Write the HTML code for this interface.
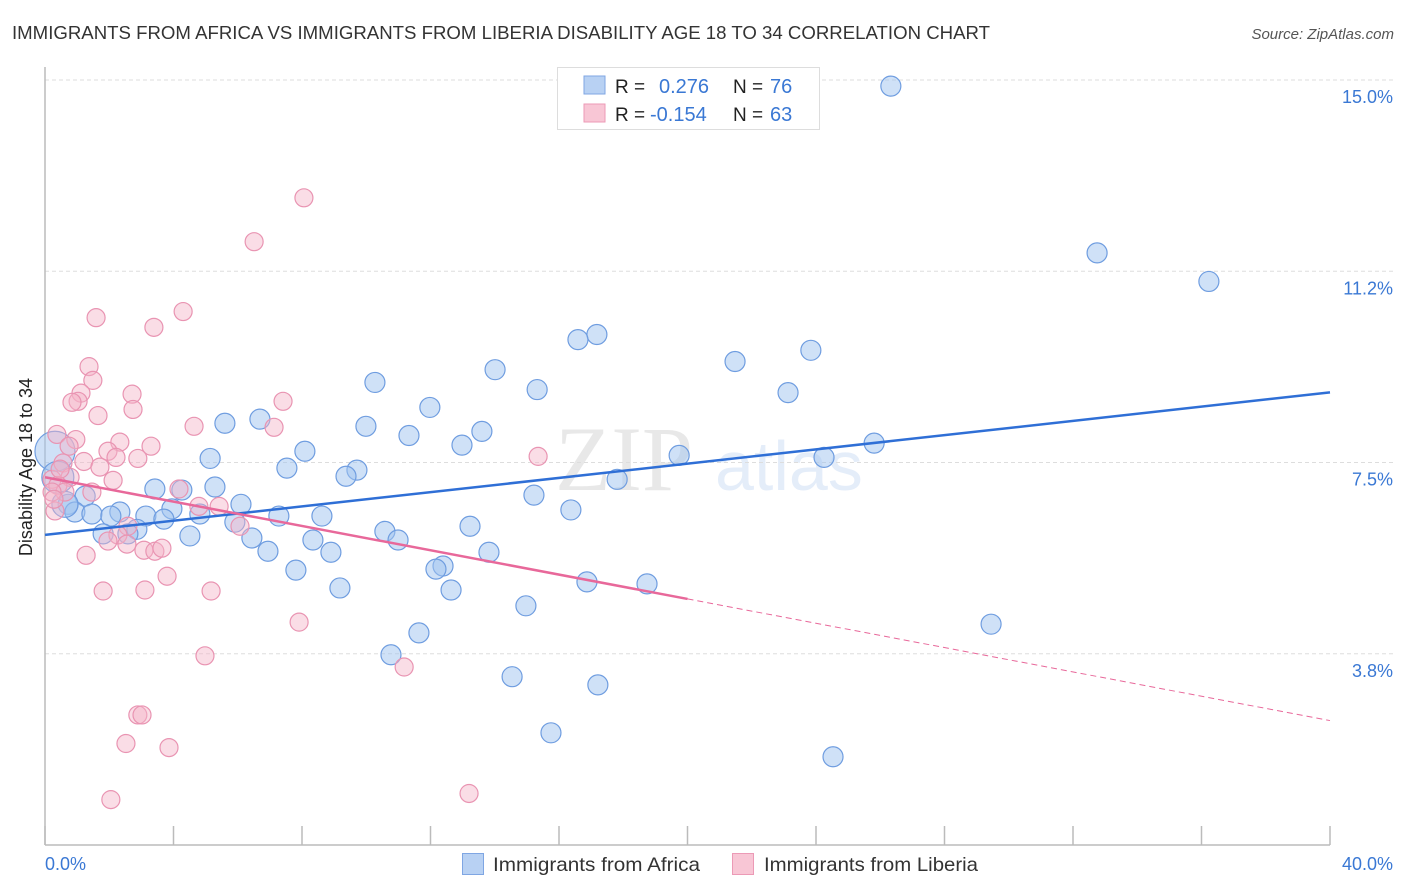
<!DOCTYPE html>
<html><head><meta charset="utf-8"><style>
body{margin:0;background:#fff;font-family:"Liberation Sans",sans-serif;}
svg{display:block}
</style></head><body>
<svg id="chart" width="1406" height="892" viewBox="0 0 1406 892">
<text x="12" y="39" font-size="18.5" fill="#333" textLength="978" lengthAdjust="spacingAndGlyphs">IMMIGRANTS FROM AFRICA VS IMMIGRANTS FROM LIBERIA DISABILITY AGE 18 TO 34 CORRELATION CHART</text>
<text x="1394" y="39" font-size="15" fill="#555" font-style="italic" text-anchor="end">Source: ZipAtlas.com</text>
<g opacity="0.13">
<text x="555" y="490" font-size="92" font-family="Liberation Serif,serif" fill="#555">ZIP</text>
<text x="715" y="490" font-size="70" fill="#3a78d4">atlas</text>
</g>
<g id="grid"></g>
<g id="axes"></g>
<g id="pts-b"></g>
<g id="pts-p"></g>
<g id="trends"></g>
<text x="20" y="455" font-size="18" fill="#222" transform="rotate(-90 32 455)" text-anchor="middle">Disability Age 18 to 34</text>
<g>
<rect x="557.5" y="67.5" width="262" height="62" fill="#fff" stroke="#ddd"/>
<rect x="584" y="76" width="21" height="18" fill="#b8d1f3" stroke="#7fa6e3"/>
<rect x="584" y="104" width="21" height="18" fill="#f8c6d5" stroke="#ec9ab6"/>
<text x="615" y="93" font-size="19" fill="#222">R =</text>
<text x="659" y="93" font-size="20" fill="#3a78d4">0.276</text>
<text x="733" y="93" font-size="19" fill="#222">N =</text>
<text x="770" y="93" font-size="20" fill="#3a78d4">76</text>
<text x="615" y="121" font-size="19" fill="#222">R =</text>
<text x="650" y="121" font-size="20" fill="#3a78d4">-0.154</text>
<text x="733" y="121" font-size="19" fill="#222">N =</text>
<text x="770" y="121" font-size="20" fill="#3a78d4">63</text>
</g>
<g>
<rect x="462.5" y="853.5" width="21" height="21" fill="#b8d1f3" stroke="#7fa6e3"/>
<text x="493" y="871" font-size="19.5" fill="#333" textLength="207" lengthAdjust="spacingAndGlyphs">Immigrants from Africa</text>
<rect x="732.5" y="853.5" width="21" height="21" fill="#f8c6d5" stroke="#ec9ab6"/>
<text x="764" y="871" font-size="19.5" fill="#333" textLength="214" lengthAdjust="spacingAndGlyphs">Immigrants from Liberia</text>
</g>
</svg>
<script>
const yTicks=[15.0,11.25,7.5,3.75];
const yTickLabels=["15.0%","11.2%","7.5%","3.8%"];
const xTicks=[0,4,8,12,16,20,24,28,32,36,40];
const xTickLabels=["0.0%","40.0%"];
const africaX=[26.33,32.75,36.23,17.18,16.59,21.48,23.84,14.01,10.27,15.32,23.13,11.98,9.99,5.60,6.69,11.33,13.60,12.98,8.09,25.81,19.74,24.25,5.14,7.53,9.71,9.37,17.81,4.26,3.42,5.29,15.22,6.10,1.25,0.72,16.37,2.33,3.14,3.95,4.82,7.28,8.62,5.91,3.70,0.93,1.46,2.05,13.23,10.58,2.86,1.81,2.58,10.99,4.51,6.44,8.34,6.94,8.90,13.82,12.39,12.17,7.81,16.87,18.74,9.18,12.64,14.97,11.64,29.45,10.77,14.54,17.21,15.75,24.53,0.31,0.40,0.62];
const africaY=[14.88,11.61,11.05,10.01,9.91,9.48,9.70,9.32,9.07,8.93,8.87,8.58,8.21,8.27,8.35,8.03,8.11,7.84,7.72,7.88,7.64,7.60,7.58,7.39,7.35,7.23,7.17,6.96,6.98,7.02,6.86,6.68,6.84,6.68,6.57,6.53,6.45,6.59,6.49,6.45,6.45,6.33,6.39,6.53,6.49,6.45,6.25,6.15,6.19,6.10,6.10,5.98,6.06,6.02,5.98,5.76,5.74,5.74,5.47,5.41,5.39,5.16,5.12,5.04,5.00,4.69,4.16,4.33,3.73,3.30,3.14,2.20,1.73,7.72,7.21,6.68];
const africaSize=[10,10,10,10,10,10,10,10,10,10,10,10,10,10,10,10,10,10,10,10,10,10,10,10,10,10,10,10,10,10,10,10,10,10,10,10,10,10,10,10,10,10,10,10,10,10,10,10,10,10,10,10,10,10,10,10,10,10,10,10,10,10,10,10,10,10,10,10,10,10,10,10,10,20,16,13];
const liberiaX=[8.06,6.51,4.30,1.59,3.39,1.37,1.49,1.12,2.71,1.03,0.84,1.65,2.74,4.64,7.41,7.13,0.37,0.96,2.33,3.30,0.75,1.96,2.21,2.89,1.21,1.71,0.56,0.78,2.12,0.22,0.40,1.46,4.17,0.62,0.22,0.31,5.42,4.79,6.07,2.58,2.27,1.96,3.08,3.42,3.64,2.55,1.28,3.80,1.81,3.11,5.17,7.91,4.98,11.18,2.89,3.02,2.52,3.86,2.05,13.20,15.35,0.47,0.28];
const liberiaY=[12.69,11.83,10.46,10.34,10.15,9.38,9.11,8.86,8.84,8.70,8.68,8.42,8.54,8.21,8.70,8.19,8.05,7.95,7.90,7.82,7.82,7.72,7.60,7.58,7.52,7.41,7.49,7.21,7.15,7.17,7.05,6.92,6.98,6.92,6.92,6.55,6.64,6.64,6.25,6.25,6.08,5.96,5.78,5.76,5.82,5.90,5.68,5.27,4.98,5.00,4.98,4.37,3.71,3.49,2.55,2.55,1.99,1.91,0.89,1.01,7.62,7.37,6.78];
const africaTrend=[6.08,8.875];
const liberiaTrend=[7.21,2.44];
const liberiaSolidEnd=20;

const NS="http://www.w3.org/2000/svg";
const X0=45,X1=1330,Y0=845,Ytop=80;
const xs=v=>X0+(v/40)*(X1-X0);
const ys=v=>Y0-(v/15)*(Y0-Ytop);
function mk(tag,attrs,parent){const e=document.createElementNS(NS,tag);for(const k in attrs)e.setAttribute(k,attrs[k]);parent.appendChild(e);return e;}
const grid=document.getElementById('grid'),axes=document.getElementById('axes');
yTicks.forEach((t,i)=>{
 const l=mk('line',{x1:X0,x2:1393,y1:ys(t),y2:ys(t),stroke:'#ddd','stroke-dasharray':'4,3'},grid);
 
 
 const tx=mk('text',{x:1393,y:ys(t)+23,'font-size':18,fill:'#3a78d4','text-anchor':'end'},axes);
 tx.textContent=yTickLabels[i];
 
 
});
const ya=mk('line',{x1:X0,x2:X0,y1:67,y2:Y0,stroke:'#bbb','stroke-width':1.5},axes);


const xa=mk('line',{x1:X0,x2:X1,y1:Y0,y2:Y0,stroke:'#bbb','stroke-width':1.5},axes);


xTicks.forEach(t=>{
 const l=mk('line',{x1:xs(t),x2:xs(t),y1:826,y2:Y0,stroke:'#bbb','stroke-width':1.5},axes);
 
 
});
const xl0=mk('text',{x:45,y:870,'font-size':18,fill:'#3a78d4'},axes);xl0.textContent=xTickLabels[0];


const xl1=mk('text',{x:1393,y:870,'font-size':18,fill:'#3a78d4','text-anchor':'end'},axes);xl1.textContent=xTickLabels[1];


const gb=document.getElementById('pts-b');
africaX.forEach((v,i)=>{
 const c=mk('circle',{cx:xs(v),cy:ys(africaY[i]),r:africaSize[i],fill:'rgba(160,195,240,0.5)',stroke:'#6f9de0','stroke-width':1.2},gb);
 
 
});
const gp=document.getElementById('pts-p');
liberiaX.forEach((v,i)=>{
 const c=mk('circle',{cx:xs(v),cy:ys(liberiaY[i]),r:9,fill:'rgba(245,180,200,0.45)',stroke:'#e994b2','stroke-width':1.2},gp);
 
 
});
const tr=document.getElementById('trends');
const bl=mk('line',{x1:xs(0),y1:ys(africaTrend[0]),x2:xs(40),y2:ys(africaTrend[1]),stroke:'#2f6fd6','stroke-width':2.5},tr);


const pm=liberiaTrend[0]+(liberiaTrend[1]-liberiaTrend[0])*liberiaSolidEnd/40;
const pl=mk('line',{x1:xs(0),y1:ys(liberiaTrend[0]),x2:xs(liberiaSolidEnd),y2:ys(pm),stroke:'#e8689a','stroke-width':2.5},tr);


const pd=mk('line',{x1:xs(liberiaSolidEnd),y1:ys(pm),x2:xs(40),y2:ys(liberiaTrend[1]),stroke:'#e8689a','stroke-width':1,'stroke-dasharray':'6,4'},tr);


</script>
</body></html>
